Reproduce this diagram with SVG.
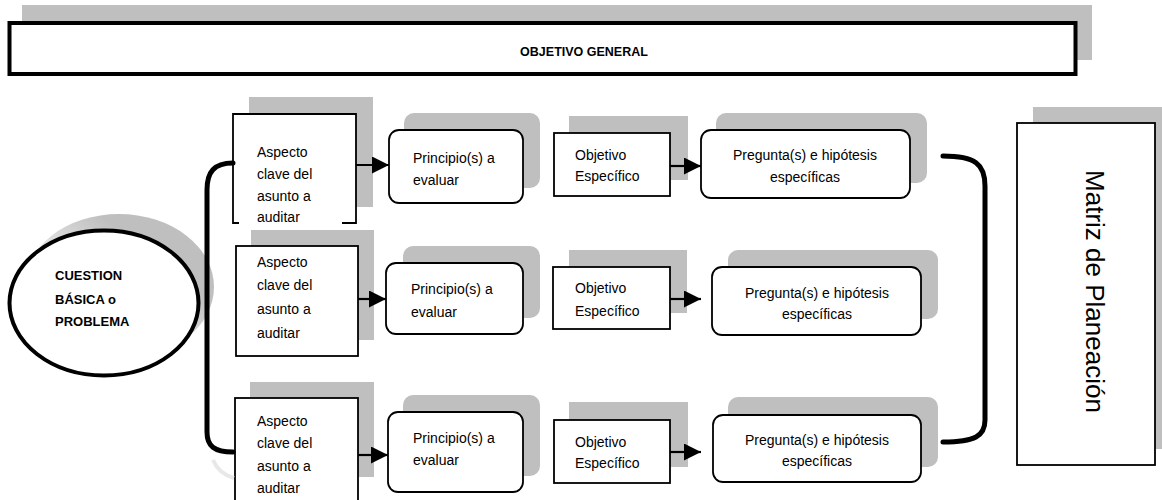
<svg xmlns="http://www.w3.org/2000/svg" width="1162" height="500" viewBox="0 0 1162 500">
  <style>
    .sh { fill: #bfbfbf; }
    .box { fill: #ffffff; stroke: #000000; stroke-width: 1.8; }
    .t { font-family: "Liberation Sans", Arial, sans-serif; font-size: 14px; fill: #000000; }
    .tc { font-family: "Liberation Sans", Arial, sans-serif; font-size: 14px; fill: #000000; text-anchor: middle; }
    .tb { font-family: "Liberation Sans", Arial, sans-serif; font-size: 12.5px; font-weight: bold; fill: #000000; }
    .tb2 { font-family: "Liberation Sans", Arial, sans-serif; font-size: 13px; font-weight: bold; fill: #000000; }
    .arrow { fill: none; stroke: #000000; stroke-width: 2.2; marker-end: url(#ah); }
    .brace { fill: none; stroke: #000000; stroke-width: 5; stroke-linecap: round; }
  </style>
  <defs>
    <marker id="ah" markerUnits="userSpaceOnUse" markerWidth="17" markerHeight="17" refX="17" refY="8.5" orient="auto">
      <path d="M0,0 L17,8.5 L0,17 Z" fill="#000000"/>
    </marker>
    <linearGradient id="ellsh" x1="0" y1="1" x2="1" y2="0">
      <stop offset="0.25" stop-color="#ffffff"/>
      <stop offset="0.7" stop-color="#bfbfbf"/>
      <stop offset="1" stop-color="#bfbfbf"/>
    </linearGradient>
  </defs>

  <rect width="1162" height="500" fill="#ffffff"/>

  <g id="objetivo-general">
    <rect class="sh" x="22" y="5" width="1070" height="55"/>
    <rect x="9.5" y="23" width="1066" height="51" fill="#ffffff" stroke="#000000" stroke-width="4"/>
    <text class="tb" x="584" y="56" text-anchor="middle">OBJETIVO GENERAL</text>
  </g>

  <g id="cuestion-basica">
    <ellipse cx="119" cy="287" rx="95" ry="73" fill="url(#ellsh)"/>
    <ellipse cx="104" cy="303" rx="94.5" ry="72.5" fill="#ffffff" stroke="#000000" stroke-width="4"/>
    <text class="tb2" x="55" y="280">CUESTION</text>
    <text class="tb2" x="55" y="304">BÁSICA o</text>
    <text class="tb2" x="55" y="326">PROBLEMA</text>
  </g>

  <!-- Row 1 -->
  <g id="aspecto-1">
    <rect class="sh" x="249" y="97" width="124" height="110"/>
    <rect x="233" y="114" width="123" height="109" fill="#ffffff"/>
    <path d="M239,223 L233,223 L233,114 L356,114 L356,223 L342,223" fill="none" stroke="#000000" stroke-width="1.8"/>
    <text class="t" x="257" y="157">Aspecto</text>
    <text class="t" x="257" y="179">clave  del</text>
    <text class="t" x="257" y="201">asunto  a</text>
    <text class="t" x="257" y="222">auditar</text>
  </g>
  <g id="principio-1">
    <rect class="sh" x="404" y="113" width="136" height="75" rx="10"/>
    <rect class="box" x="389" y="130" width="134" height="73" rx="10"/>
    <text class="t" x="413" y="163">Principio(s) a</text>
    <text class="t" x="413" y="185">evaluar</text>
  </g>
  <g id="objetivo-1">
    <rect class="sh" x="569" y="116" width="119" height="64"/>
    <rect class="box" x="554" y="133" width="116" height="63"/>
    <text class="t" x="575" y="160">Objetivo</text>
    <text class="t" x="575" y="181">Específico</text>
  </g>
  <g id="pregunta-1">
    <rect class="sh" x="716" y="113" width="211" height="70" rx="10"/>
    <rect class="box" x="701" y="130" width="209" height="68" rx="10"/>
    <text class="tc" x="805" y="160">Pregunta(s) e hipótesis</text>
    <text class="tc" x="805" y="182">específicas</text>
  </g>

  <!-- Row 2 -->
  <g id="aspecto-2">
    <rect class="sh" x="251" y="230" width="123" height="110"/>
    <rect class="box" x="236" y="246" width="122" height="110"/>
    <text class="t" x="257" y="267">Aspecto</text>
    <text class="t" x="257" y="290">clave  del</text>
    <text class="t" x="257" y="314">asunto  a</text>
    <text class="t" x="257" y="338">auditar</text>
  </g>
  <g id="principio-2">
    <rect class="sh" x="403" y="246" width="137" height="72" rx="10"/>
    <rect class="box" x="386" y="263" width="137" height="71" rx="10"/>
    <text class="t" x="411" y="294">Principio(s)  a</text>
    <text class="t" x="411" y="317">evaluar</text>
  </g>
  <g id="objetivo-2">
    <rect class="sh" x="569" y="250" width="118" height="63"/>
    <rect class="box" x="553" y="267" width="117" height="62"/>
    <text class="t" x="575" y="293">Objetivo</text>
    <text class="t" x="575" y="316">Específico</text>
  </g>
  <g id="pregunta-2">
    <rect class="sh" x="728" y="250" width="210" height="69" rx="10"/>
    <rect class="box" x="712" y="267" width="209" height="68" rx="10"/>
    <text class="tc" x="817" y="298">Pregunta(s) e hipótesis</text>
    <text class="tc" x="817" y="319">específicas</text>
  </g>

  <!-- Row 3 -->
  <g id="aspecto-3">
    <rect class="sh" x="250" y="382" width="124" height="95"/>
    <rect class="box" x="235" y="398" width="123" height="110"/>
    <text class="t" x="257" y="426">Aspecto</text>
    <text class="t" x="257" y="448">clave  del</text>
    <text class="t" x="257" y="471">asunto  a</text>
    <text class="t" x="257" y="493">auditar</text>
  </g>
  <g id="principio-3">
    <rect class="sh" x="403" y="395" width="137" height="81" rx="10"/>
    <rect class="box" x="388" y="412" width="135" height="80" rx="10"/>
    <text class="t" x="413" y="443">Principio(s) a</text>
    <text class="t" x="413" y="465">evaluar</text>
  </g>
  <g id="objetivo-3">
    <rect class="sh" x="569" y="402" width="119" height="65"/>
    <rect class="box" x="554" y="420" width="116" height="63"/>
    <text class="t" x="575" y="447">Objetivo</text>
    <text class="t" x="575" y="468">Específico</text>
  </g>
  <g id="pregunta-3">
    <rect class="sh" x="728" y="397" width="210" height="70" rx="10"/>
    <rect class="box" x="713" y="415" width="208" height="67" rx="10"/>
    <text class="tc" x="817" y="445">Pregunta(s) e hipótesis</text>
    <text class="tc" x="817" y="466">específicas</text>
  </g>

  <g id="matriz-planeacion">
    <rect class="sh" x="1033" y="107" width="140" height="342"/>
    <rect class="box" x="1017" y="123" width="138" height="342"/>
    <text transform="translate(1086,291.5) rotate(90)" x="0" y="0" text-anchor="middle" font-family="'Liberation Sans', Arial, sans-serif" font-size="26" fill="#000000">Matriz de Planeación</text>
  </g>

  <g id="connectors">
    <path d="M213,460 Q219,474 234,478" fill="none" stroke="#e8e8e8" stroke-width="4"/>
    <path class="brace" d="M233,163 C214,163 207,172 207,190 L207,432 C207,446 214,452 233,452"/>
    <path class="brace" d="M943,156 C975,156 985,164 985,186 L985,420 C985,436 975,442 943,442"/>
    <line class="arrow" x1="356" y1="165" x2="389" y2="165"/>
    <line class="arrow" x1="670" y1="166" x2="701" y2="166"/>
    <line class="arrow" x1="358" y1="299" x2="386" y2="299"/>
    <line class="arrow" x1="670" y1="299" x2="701" y2="299"/>
    <line class="arrow" x1="358" y1="455" x2="388" y2="455"/>
    <line class="arrow" x1="670" y1="452" x2="701" y2="452"/>
  </g>
</svg>
